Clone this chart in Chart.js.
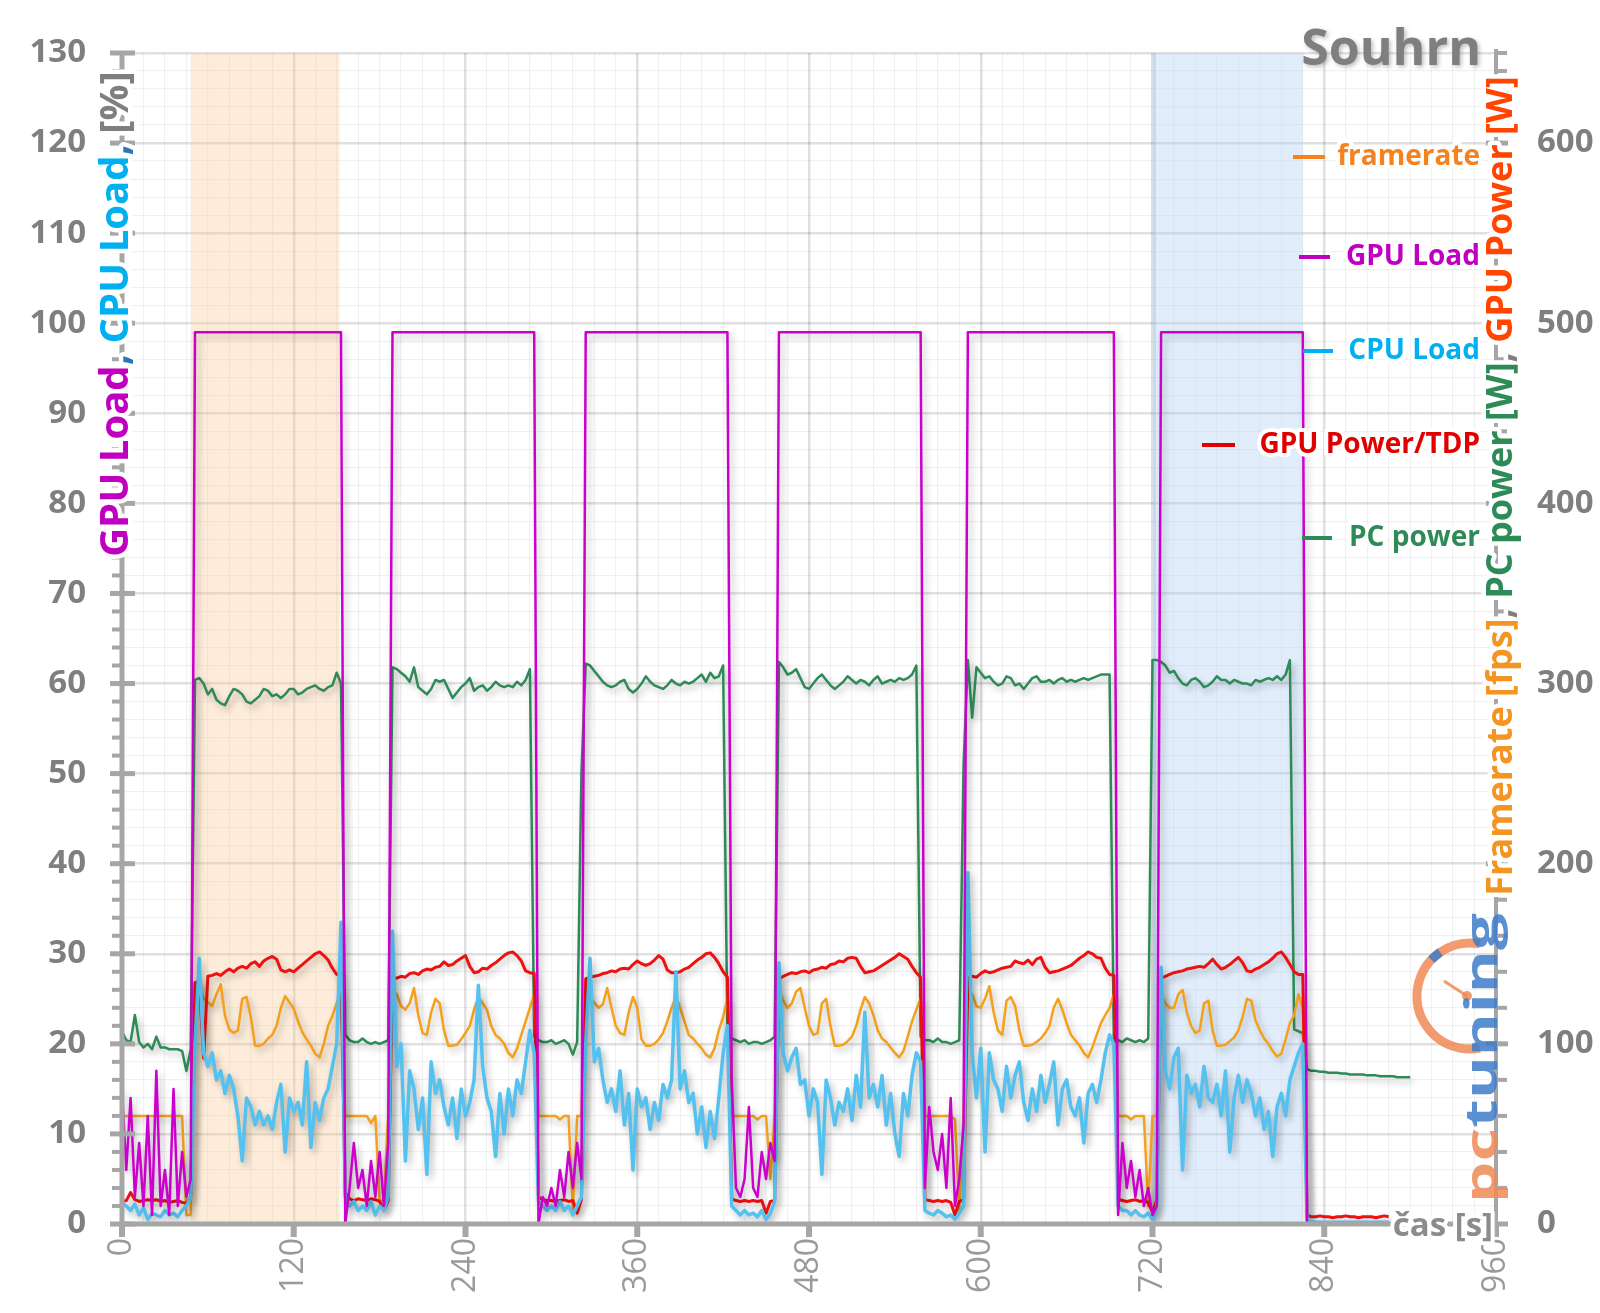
<!DOCTYPE html>
<html>
<head>
<meta charset="utf-8">
<title>Souhrn</title>
<script src="https://cdn.jsdelivr.net/npm/chart.js@4.4.1/dist/chart.umd.min.js"></script>
<style>
  html, body { margin: 0; padding: 0; background: #fff; }
</style>
</head>
<body>
<canvas id="souhrn" width="1600" height="1313"></canvas>
<script>
// one sample every 3 s
const STEP = 3;

// GPU Load [%]
const gpuLoad = [
  15, 6, 14, 3, 9, 2, 12, 1, 17, 2, 6, 1, 15, 2, 8, 3, 5,
  99, 99, 99, 99, 99, 99, 99, 99, 99, 99,
  99, 99, 99, 99, 99, 99, 99, 99, 99, 99,
  99, 99, 99, 99, 99, 99, 99, 99, 99, 99,
  99, 99, 99, 99, 99,
  0, 4, 9, 4, 6, 2, 7, 3, 8, 2, 9,
  99, 99, 99, 99, 99, 99, 99, 99, 99, 99,
  99, 99, 99, 99, 99, 99, 99, 99, 99, 99,
  99, 99, 99, 99, 99, 99, 99, 99, 99, 99,
  99, 99, 99, 99,
  0, 3, 2, 4, 2, 6, 3, 8, 4, 9, 5,
  99, 99, 99, 99, 99, 99, 99, 99, 99, 99,
  99, 99, 99, 99, 99, 99, 99, 99, 99, 99,
  99, 99, 99, 99, 99, 99, 99, 99, 99, 99,
  99, 99, 99, 99,
  16, 4, 3, 5, 13, 4, 3, 8, 5, 9, 7,
  99, 99, 99, 99, 99, 99, 99, 99, 99, 99,
  99, 99, 99, 99, 99, 99, 99, 99, 99, 99,
  99, 99, 99, 99, 99, 99, 99, 99, 99, 99,
  99, 99, 99, 99,
  4, 13, 8, 6, 10, 4, 14, 2, 5, 11,
  99, 99, 99, 99, 99, 99, 99, 99, 99, 99,
  99, 99, 99, 99, 99, 99, 99, 99, 99, 99,
  99, 99, 99, 99, 99, 99, 99, 99, 99, 99,
  99, 99, 99, 99, 99,
  1, 9, 4, 7, 3, 6, 2, 4, 1, 2,
  99, 99, 99, 99, 99, 99, 99, 99, 99, 99,
  99, 99, 99, 99, 99, 99, 99, 99, 99, 99,
  99, 99, 99, 99, 99, 99, 99, 99, 99, 99,
  99, 99, 99, 99,
  0, 0, 0, 0, 0, 0, 0, 0, 0, 0, 0, 0, 0, 0, 0, 0, 0, 0, 0, 0
];

// CPU Load [%]
const cpuLoad = [
  2.3, 2.0, 1.5, 2.2, 1.0, 1.8, 0.5, 1.2, 1.0, 0.8, 1.5, 1.0, 1.2, 0.8, 1.5, 2.0, 3.0,
  20, 29.5, 19, 17.5, 19, 16, 17, 14.5, 16.5, 15,
  12, 7, 14, 13, 11, 12.5, 11, 12, 10.5, 13.5,
  15.5, 8, 14, 12.5, 13.5, 11, 18, 8.5, 13.5, 11.5,
  14, 15, 17.5, 20, 33.5,
  3, 2, 2.5, 1.5, 2, 1.5, 2.5, 1, 2, 1.5, 3,
  32.5, 17.5, 20, 7, 17, 15, 10.5, 14, 5.5, 18,
  14.5, 16, 13, 11, 14, 9.5, 15, 12, 13.5, 16,
  26.5, 17.5, 14, 12.5, 7.5, 14.5, 10, 15, 12, 16,
  14.5, 18, 21.5, 19,
  2.5, 2, 1.5, 2, 1.5, 2.5, 1.5, 2, 1, 2, 3,
  20, 29.5, 18, 19.5, 16, 13.5, 15, 12.5, 17, 11,
  14.5, 6, 15, 13, 14, 10.5, 13.5, 11.5, 15.5, 14,
  16, 28, 15, 17, 13.5, 14.5, 10, 13, 8.5, 12.5,
  9.5, 14, 19, 22,
  2, 1.5, 1, 1.5, 1, 1.2, 0.8, 1.5, 0.5, 1.2, 2.5,
  29, 19, 17, 18.5, 19.5, 15.5, 16, 12, 15, 13.5,
  5.5, 16, 14, 11, 13.5, 12.5, 15, 11.5, 16.5, 13,
  23.5, 14, 15.5, 13, 16.5, 11, 14.5, 10, 7.5, 14.5,
  12, 16.5, 19, 18,
  1.5, 1.2, 1, 1.5, 1.2, 0.8, 1, 0.5, 1.2, 2,
  39, 19, 14, 19.5, 8, 19, 16, 15, 12.5, 17.5,
  14, 16.5, 18, 13.5, 11.5, 15, 12.5, 16.5, 13.5, 15.5,
  18, 11, 15, 16, 13, 12, 14, 9, 14.5, 15.5,
  13.5, 16, 19, 21, 20,
  2, 1.5, 1.5, 1, 1.5, 1, 0.8, 1.2, 0.5, 2,
  28.5, 17, 15, 18.5, 19.5, 6, 16.5, 14.5, 15.5, 13,
  17.5, 14, 13.5, 15.5, 12, 17, 8, 14, 16.5, 13.5,
  16, 14.5, 12, 14, 10.5, 12.5, 7.5, 13, 14.5, 12,
  16, 17.5, 19, 20,
  0.5, 0.3, 0.2, 0.2, 0.2, 0.2, 0.2, 0.2, 0.2, 0.2,
  0.2, 0.2, 0.2, 0.2, 0.2, 0.2, 0.2, 0.2, 0.2, 0.2
];

// framerate [fps]
const framerate = [
  60, 60, 60, 60, 60, 60, 60, 60, 60, 60, 60, 60, 60, 60, 60, 5, 5,
  134, 132, 125, 123, 121, 127.5, 133, 115.5, 108, 106,
  107.5, 125, 126, 115, 99, 99, 100, 103, 105, 110,
  120, 126.5, 123, 119.5, 112.5, 106.5, 102.5, 99, 94.5, 92.5,
  100, 110, 115.5, 122.5, 130,
  60, 60, 60, 60, 60, 60, 56, 60, 13, 13, 60,
  130, 127.5, 121, 119, 122.5, 131, 116, 106, 105, 117.5,
  125, 122.5, 107.5, 99, 99, 99.5, 102.5, 106, 110, 119,
  126, 122.5, 119, 110, 105, 103, 100, 95, 92.5, 97.5,
  105, 112.5, 120, 127.5,
  60, 60, 60, 60, 60, 58, 60, 60, 8, 60, 60,
  130, 125, 123, 120, 122, 131, 120, 110, 106, 105,
  117.5, 126, 120, 102.5, 99, 99, 100, 102.5, 106, 112.5,
  120, 126, 120, 112.5, 105, 103, 100, 97.5, 94, 92.5,
  97.5, 107.5, 115, 125,
  60, 60, 60, 60, 60, 60, 58, 60, 60, 25, 60,
  130, 124, 120, 122.5, 129, 131, 120, 110, 105, 106,
  122.5, 125, 110, 99, 99, 99.5, 101.5, 104, 110, 119,
  126, 122.5, 116, 107.5, 103, 101, 98, 95, 92.5, 96,
  104, 112.5, 119, 125,
  60, 60, 60, 60, 60, 60, 60, 58, 8, 60,
  130, 127.5, 121, 120, 125, 132, 117.5, 107.5, 105, 124,
  126, 121, 107.5, 99, 99, 99.5, 101, 103, 106, 110,
  120, 125, 119, 111.5, 105, 102, 99, 95, 92.5, 98,
  105, 111.5, 116, 120, 127.5,
  60, 60, 60, 58, 60, 60, 60, 10, 60, 60,
  127.5, 122.5, 120, 120, 127.5, 130, 117.5, 110, 106, 107.5,
  122.5, 124, 107.5, 99, 99, 99.5, 101.5, 103.5, 107.5, 115,
  125, 124, 113, 107.5, 103, 100, 96, 93, 94.5, 102.5,
  111.5, 116, 127.5, 120,
  1, 1, 1, 1, 1, 1, 1, 1, 1, 1, 1, 1, 1, 1, 1, 1, 1, 1, 1, 1
];

// GPU Power [W]
const gpuPower = [
  12.5, 13, 17.5, 13.5, 12.5, 13, 13.5, 13, 13.5, 12.5, 13, 12, 12.5, 13, 12, 11.5, 15,
  134, 135, 92, 137.5, 138, 139, 138, 140, 141.5, 140,
  142, 143, 142, 144.5, 145.5, 143, 146, 147.5, 148.5, 147,
  141, 140, 141, 140, 142, 144, 146, 148, 150, 151,
  149, 146.5, 142, 138.5, 138.5,
  17.5, 14, 13, 14, 13.5, 13, 14, 13.5, 12.5, 7.5, 13,
  136, 136.5, 137.5, 137, 139, 139.5, 138.5, 140.5, 141.5, 141,
  142.5, 143, 145.5, 143.5, 144, 146, 147.5, 149, 143, 139.5,
  140, 142, 141.5, 143.5, 145, 147, 149, 150.5, 151, 149,
  146, 140.5, 139.5, 139,
  15, 13.5, 13, 13, 12.5, 13, 13.5, 12.5, 13, 6, 13.5,
  136, 137, 137.5, 138, 139, 139.5, 140.5, 140, 141.5, 142,
  141.5, 144, 146, 144.5, 143.5, 144.5, 146.5, 149, 147, 141,
  139.5, 139.5, 140, 141.5, 142.5, 144.5, 146.5, 148, 150, 150.5,
  148, 144.5, 140, 137,
  14, 13, 12.5, 13, 12.5, 13, 12.5, 13, 6, 12.5, 13,
  136, 137.5, 138.5, 139.5, 139, 140, 140.5, 139.5, 141, 141.5,
  142.5, 142, 144, 144.5, 146, 145.5, 147.5, 148, 147.5, 143,
  139.5, 140, 140.5, 142, 143.5, 145, 146.5, 148, 150, 148.5,
  147, 143, 139.5, 137,
  13.5, 13, 12.5, 13, 12.5, 13, 12, 5, 12.5, 13.5,
  136.5, 137.5, 137, 139, 140.5, 139.5, 140, 141, 142, 142.5,
  143, 146, 145, 144.5, 146.5, 144, 147, 148, 142.5, 139.5,
  140, 140.5, 141.5, 142.5, 143.5, 145.5, 147.5, 149, 151, 150,
  148, 147.5, 142, 138.5, 138,
  14, 13, 12.5, 13, 13.5, 12.5, 13, 12, 6.5, 13.5,
  136.5, 137.5, 138.5, 139.5, 140, 140.5, 141.5, 142, 142.5, 143,
  142.5, 144.5, 147, 144, 141.5, 142.5, 144, 146, 148, 145,
  140.5, 140, 141.5, 142.5, 144, 145.5, 147.5, 150, 151, 148,
  144, 140, 138.5, 138.5,
  5, 4, 4, 4.5, 4, 4, 3.5, 4, 4, 4.5, 4, 4, 3.5, 4, 4, 4, 3.5, 4, 4.5, 4
];

// PC power [W]
const pcPower = [
  107, 102, 101, 116, 101, 98, 100, 97, 104, 98, 98, 97, 97, 97, 96, 85, 97,
  302, 303, 300, 294, 297, 291, 289, 288, 293, 297,
  296, 294, 290, 289, 291, 293, 297, 296, 293, 294,
  292, 294, 297, 297, 294, 295, 297, 298, 299, 297,
  296, 298, 299, 306, 300,
  105, 102, 101, 101, 103, 101, 100, 101, 100, 101, 102,
  309, 308, 306, 304, 301, 309, 298, 296, 294, 297,
  302, 301, 302, 297, 292, 295, 298, 300, 303, 296,
  298, 299, 296, 298, 301, 299, 298, 299, 298, 301,
  299, 302, 308, 104,
  102, 101, 101, 102, 100, 101, 102, 100, 94, 101, 250,
  311, 310, 307, 304, 301, 299, 298, 299, 301, 302,
  297, 295, 297, 300, 304, 301, 299, 298, 297, 299,
  302, 300, 299, 301, 300, 301, 303, 305, 301, 306,
  303, 304, 310, 106,
  103, 102, 101, 102, 100, 101, 101, 100, 101, 102, 104,
  312, 309, 305, 306, 308, 303, 298, 297, 300, 303,
  305, 302, 299, 297, 299, 301, 304, 302, 300, 302,
  301, 299, 302, 304, 300, 301, 302, 301, 303, 302,
  303, 305, 310, 104,
  102, 102, 101, 103, 101, 101, 100, 101, 102, 255,
  313, 281, 309, 306, 303, 304, 301, 299, 300, 304,
  303, 299, 300, 297, 300, 303, 304, 301, 301, 302,
  300, 302, 303, 301, 302, 301, 302, 303, 302, 303,
  304, 305, 305, 305, 103,
  102, 101, 103, 102, 101, 102, 101, 103, 313, 313,
  312, 310, 306, 307, 303, 300, 299, 302, 303, 301,
  298, 299, 301, 304, 302, 302, 300, 302, 301, 300,
  300, 299, 302, 301, 302, 303, 302, 304, 302, 305,
  313, 108, 107, 106,
  86, 85, 85, 84.5, 84.5, 84, 84, 84, 83.5, 83.5,
  83, 83, 83, 83, 82.5, 82.5, 82.5, 82, 82, 82,
  82, 81.5, 81.5, 81.5, 81.5
];

// highlighted runs [s]
const bandStart = [48, 721];
const bandEnd = [152, 825];

const xTickLabels = [0, 120, 240, 360, 480, 600, 720, 840, 960];
const leftTickLabels = [0, 10, 20, 30, 40, 50, 60, 70, 80, 90, 100, 110, 120, 130];
const rightTickLabels = [0, 100, 200, 300, 400, 500, 600];

const FONT = '"Open Sans", "DejaVu Sans", sans-serif';
const AXIS = '#a6a6a6';
const GRID_MAJOR = 'rgba(0,0,0,0.12)';
const GRID_MINOR = 'rgba(0,0,0,0.055)';

const C_GPU = '#cc00cc';
const C_CPU = '#55c1ef';
const C_PWR = '#f01010';
const C_FPS = '#f5a01a';
const C_PC = '#2e8b57';

const series = arr => arr.map((v, i) => ({ x: i * STEP, y: v }));

function richText(ctx, parts, x, y, font, angle) {
  ctx.save();
  ctx.translate(x, y);
  ctx.rotate(angle);
  ctx.font = font;
  ctx.textBaseline = 'middle';
  ctx.textAlign = 'left';
  const widths = parts.map(p => ctx.measureText(p[0]).width);
  const total = widths.reduce((s, w) => s + w, 0);
  ctx.lineJoin = 'round';
  ctx.lineWidth = 9;
  ctx.strokeStyle = '#fff';
  let pos = -total / 2;
  parts.forEach((p, i) => { ctx.strokeText(p[0], pos, 0); pos += widths[i]; });
  pos = -total / 2;
  parts.forEach((p, i) => { ctx.fillStyle = p[1]; ctx.fillText(p[0], pos, 0); pos += widths[i]; });
  ctx.restore();
}

function label(ctx, txt, x, y, font, color) {
  ctx.save();
  ctx.font = font;
  ctx.textAlign = 'right';
  ctx.textBaseline = 'middle';
  ctx.lineJoin = 'round';
  ctx.lineWidth = 8;
  ctx.strokeStyle = '#fff';
  ctx.strokeText(txt, x, y);
  ctx.fillStyle = color;
  ctx.fillText(txt, x, y);
  ctx.restore();
}

function drawLogo(ctx) {
  ctx.save();
  ctx.globalAlpha = 0.85;
  const cx = 1470, cy = 996, r = 53;
  ctx.strokeStyle = '#ef8a56';
  ctx.lineWidth = 9;
  ctx.beginPath();
  ctx.arc(cx, cy, r, -Math.PI * 0.44, Math.PI * 0.44, true);
  ctx.stroke();
  ctx.strokeStyle = '#3d7cc9';
  ctx.beginPath();
  ctx.arc(cx, cy, r, -Math.PI * 0.76, -Math.PI * 0.69);
  ctx.stroke();
  ctx.strokeStyle = '#ef8a56';
  ctx.lineWidth = 3;
  ctx.beginPath();
  ctx.moveTo(1444, 981);
  ctx.lineTo(cx - 3, cy);
  ctx.stroke();
  ctx.fillStyle = '#ef8a56';
  ctx.beginPath();
  ctx.arc(cx - 3, cy, 5, 0, Math.PI * 2);
  ctx.fill();

  ctx.translate(1497, 1203);
  ctx.rotate(-Math.PI / 2);
  ctx.font = 'bold 44px ' + FONT;
  ctx.textBaseline = 'alphabetic';
  ctx.textAlign = 'left';
  const wPc = ctx.measureText('pc').width;
  const wAll = ctx.measureText('pctuning').width;
  ctx.scale(290 / wAll, 1);
  ctx.fillStyle = '#ef8a56';
  ctx.fillText('pc', 0, 0);
  ctx.fillStyle = '#3d7cc9';
  ctx.fillText('tuning', wPc, 0);
  ctx.restore();
}

const decor = {
  id: 'decor',
  beforeDatasetsDraw(chart) {
    const { ctx, chartArea: a, scales: { x } } = chart;
    const fills = ['rgba(250, 200, 150, 0.35)', 'rgba(175, 208, 245, 0.38)'];
    ctx.save();
    bandStart.forEach((s, i) => {
      const x0 = x.getPixelForValue(s);
      const x1 = x.getPixelForValue(bandEnd[i]);
      ctx.fillStyle = fills[i % fills.length];
      ctx.fillRect(x0, a.top, x1 - x0, a.bottom - a.top);
      if (i === 1) {
        ctx.fillStyle = 'rgba(130, 170, 225, 0.3)';
        ctx.fillRect(x0 - 1, a.top, 3, a.bottom - a.top);
      }
    });
    ctx.restore();
  },
  beforeDatasetDraw(chart) {
    const ctx = chart.ctx;
    ctx.save();
    ctx.shadowColor = 'rgba(0, 0, 0, 0.28)';
    ctx.shadowBlur = 7;
    ctx.shadowOffsetX = 3;
    ctx.shadowOffsetY = 4;
  },
  afterDatasetDraw(chart) {
    chart.ctx.restore();
  },
  afterDraw(chart) {
    const { ctx, chartArea: a, scales } = chart;
    const xs = scales.x, yl = scales.y, yr = scales.y2;
    ctx.save();
    ctx.fillStyle = AXIS;
    // left axis with ticks
    ctx.fillRect(a.left - 2.5, a.top, 5, a.bottom - a.top + 2.5);
    yl.ticks.forEach(t => {
      const y = yl.getPixelForValue(t.value);
      if (leftTickLabels.includes(t.value)) ctx.fillRect(a.left - 12, y - 2.5, 25, 5);
      else ctx.fillRect(a.left - 10, y - 2, 10, 4);
    });
    // right axis with ticks
    ctx.fillRect(a.right - 2, a.top - 4, 4, a.bottom - a.top + 6);
    yr.ticks.forEach(t => {
      const y = yr.getPixelForValue(t.value);
      if (rightTickLabels.includes(t.value)) ctx.fillRect(a.right - 10, y - 2.5, 22, 5);
      else ctx.fillRect(a.right, y - 2, 11, 4);
    });
    // bottom axis with ticks
    ctx.fillRect(a.left, a.bottom - 2.5, a.right - a.left, 5);
    xs.ticks.forEach(t => {
      if (!xTickLabels.includes(t.value)) return;
      const x = xs.getPixelForValue(t.value);
      ctx.fillRect(x - 3, a.bottom, 6, 13);
    });
    ctx.restore();

    // axis titles
    richText(ctx, [
      ['GPU Load', '#c000c0'], [', ', '#2e75b6'], ['CPU Load', '#00b0f0'], [', ', '#2e75b6'], ['[%]', '#7f7f7f']
    ], 117, 314, 'bold 40px ' + FONT, -Math.PI / 2);
    richText(ctx, [
      ['Framerate [fps]', '#f39423'], [', ', '#7f7f7f'], ['PC power [W]', '#2e8b57'], [', ', '#7f7f7f'], ['GPU Power [W]', '#ff4500']
    ], 1502, 486, 'bold 36px ' + FONT, -Math.PI / 2);

    // chart title
    ctx.save();
    ctx.shadowColor = 'rgba(0,0,0,0.25)';
    ctx.shadowBlur = 4;
    ctx.shadowOffsetX = 2;
    ctx.shadowOffsetY = 2;
    ctx.font = 'bold 50px ' + FONT;
    ctx.textAlign = 'right';
    ctx.textBaseline = 'alphabetic';
    ctx.fillStyle = '#7f7f7f';
    ctx.fillText('Souhrn', 1481, 65);
    ctx.restore();

    // legend
    const items = [
      ['framerate', '#f58220', 157, 1293, 1325],
      ['GPU Load', '#c000c0', 257, 1299, 1330],
      ['CPU Load', '#00b0f0', 351, 1303, 1333],
      ['GPU Power/TDP', '#e00000', 445, 1202, 1235],
      ['PC power', '#2e8b57', 538, 1302, 1332]
    ];
    items.forEach(([txt, col, y, l0, l1]) => {
      ctx.save();
      ctx.strokeStyle = col;
      ctx.lineWidth = 4;
      ctx.beginPath();
      ctx.moveTo(l0, y);
      ctx.lineTo(l1, y);
      ctx.stroke();
      ctx.restore();
      label(ctx, txt, 1480, y, 'bold 28px ' + FONT, col);
    });

    drawLogo(ctx);

    // x axis title
    ctx.save();
    ctx.font = 'bold 33px ' + FONT;
    ctx.textAlign = 'right';
    ctx.textBaseline = 'alphabetic';
    ctx.lineJoin = 'round';
    ctx.lineWidth = 8;
    ctx.strokeStyle = '#fff';
    ctx.strokeText('čas [s]', 1493, 1236);
    ctx.fillStyle = '#8c8c8c';
    ctx.fillText('čas [s]', 1493, 1236);
    ctx.restore();
  }
};

new Chart(document.getElementById('souhrn'), {
  type: 'line',
  data: {
    datasets: [
      { label: 'GPU Load', data: series(gpuLoad), yAxisID: 'y', borderColor: C_GPU, borderWidth: 2.5 },
      { label: 'CPU Load', data: series(cpuLoad), yAxisID: 'y', borderColor: C_CPU, borderWidth: 3.5 },
      { label: 'GPU Power/TDP', data: series(gpuPower), yAxisID: 'y2', borderColor: C_PWR, borderWidth: 3 },
      { label: 'framerate', data: series(framerate), yAxisID: 'y2', borderColor: C_FPS, borderWidth: 2.5 },
      { label: 'PC power', data: series(pcPower), yAxisID: 'y2', borderColor: C_PC, borderWidth: 2.5 }
    ]
  },
  options: {
    responsive: false,
    animation: false,
    devicePixelRatio: 1,
    layout: { padding: { top: 53, left: 0, right: 0, bottom: 0 } },
    elements: {
      point: { radius: 0 },
      line: { tension: 0, borderJoinStyle: 'round', fill: false }
    },
    plugins: { legend: { display: false }, tooltip: { enabled: false } },
    scales: {
      x: {
        type: 'linear', min: 0, max: 960,
        afterFit: s => { s.height = 89; },
        border: { display: false },
        grid: {
          drawTicks: false, tickLength: 0,
          color: c => (c.tick && xTickLabels.includes(c.tick.value)) ? GRID_MAJOR : GRID_MINOR,
          lineWidth: c => (c.tick && xTickLabels.includes(c.tick.value)) ? 2.5 : 1.2
        },
        ticks: {
          stepSize: 15, autoSkip: false, minRotation: 90, maxRotation: 90, padding: 14,
          color: '#9a9a9a', font: { family: FONT, size: 32 },
          callback: v => xTickLabels.includes(v) ? String(v) : ''
        }
      },
      y: {
        position: 'left', min: 0, max: 130,
        afterFit: s => { s.width = 122; },
        border: { display: false },
        grid: {
          drawTicks: false, tickLength: 0,
          color: c => (c.tick && leftTickLabels.includes(c.tick.value)) ? GRID_MAJOR : GRID_MINOR,
          lineWidth: c => (c.tick && leftTickLabels.includes(c.tick.value)) ? 2.5 : 1.2
        },
        ticks: {
          stepSize: 2, autoSkip: false, padding: 36,
          color: '#7f7f7f', font: { family: FONT, size: 33, weight: 'bold', lineHeight: 0.5 },
          callback: v => leftTickLabels.includes(v) ? String(v) : ''
        }
      },
      y2: {
        position: 'right', min: 0, max: 650,
        afterFit: s => { s.width = 104; },
        border: { display: false },
        grid: { display: false, drawOnChartArea: false, drawTicks: false, tickLength: 0 },
        ticks: {
          stepSize: 20, autoSkip: false, padding: 41,
          color: '#7f7f7f', font: { family: FONT, size: 33, weight: 'bold', lineHeight: 0.5 },
          callback: v => rightTickLabels.includes(v) ? String(v) : ''
        }
      }
    }
  },
  plugins: [decor]
});
</script>
</body>
</html>
